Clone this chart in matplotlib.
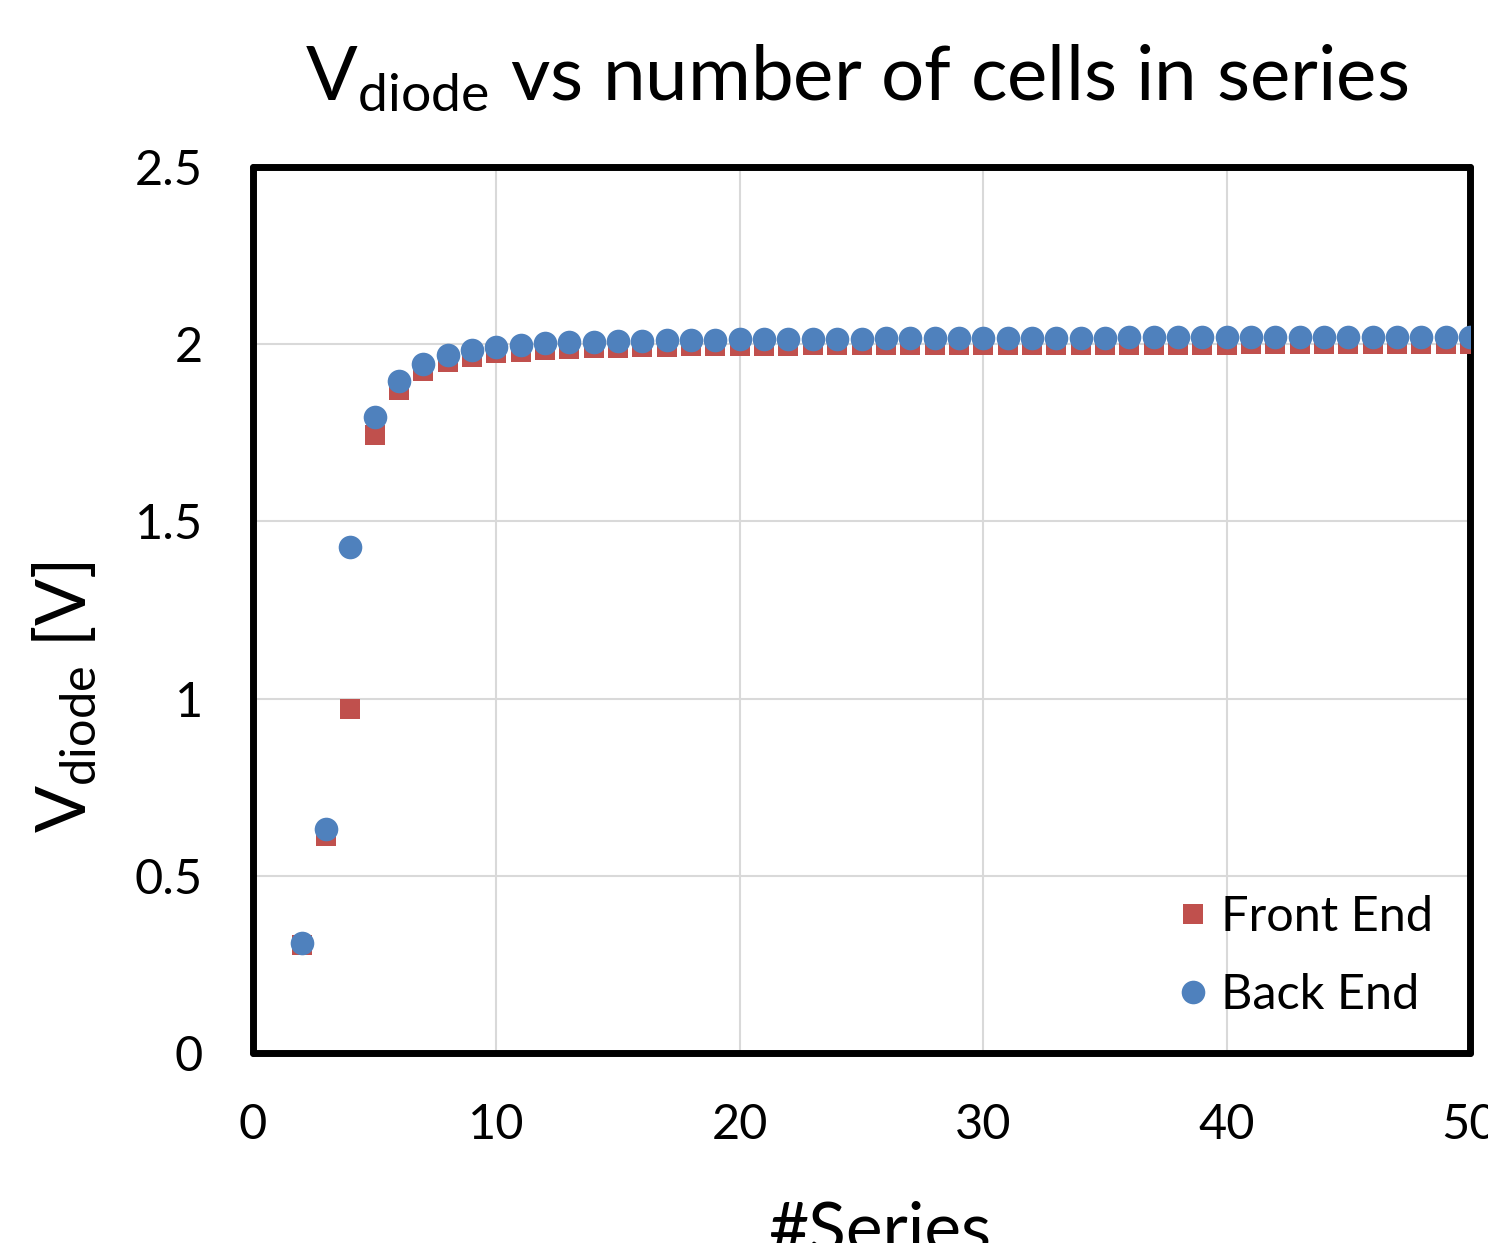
#!/usr/bin/env python3
"""Vdiode vs number of cells in series (front end / back end)."""
import numpy as np
import matplotlib
matplotlib.use('Agg')
import matplotlib.pyplot as plt

n_series = list(range(2, 51))

v_front = [0.305, 0.612, 0.970, 1.744, 1.871, 1.923, 1.949, 1.963, 1.974,
           1.979, 1.984, 1.987, 1.988, 1.990, 1.992, 1.993, 1.994, 1.994,
           1.995, 1.996, 1.996, 1.997, 1.997, 1.997, 1.998, 1.998, 1.998,
           1.998, 1.998, 1.998, 1.999, 1.999, 1.999, 1.999, 1.999, 1.999,
           1.999, 1.999, 1.999, 2.000, 2.000, 2.000, 2.000, 2.000, 2.000,
           2.000, 2.000, 2.000, 2.000]

v_back = [0.310, 0.631, 1.429, 1.794, 1.896, 1.943, 1.970, 1.984, 1.991,
          1.998, 2.002, 2.005, 2.007, 2.009, 2.010, 2.011, 2.012, 2.013,
          2.014, 2.015, 2.015, 2.016, 2.016, 2.016, 2.017, 2.017, 2.017,
          2.017, 2.017, 2.018, 2.018, 2.018, 2.018, 2.018, 2.019, 2.019,
          2.019, 2.019, 2.019, 2.020, 2.020, 2.020, 2.020, 2.020, 2.020,
          2.020, 2.020, 2.020, 2.020]

x_ticks = [0, 10, 20, 30, 40, 50]
y_ticks = [0, 0.5, 1, 1.5, 2, 2.5]
y_tick_labels = ['0', '0.5', '1', '1.5', '2', '2.5']

RED = '#C0504D'
BLUE = '#4F81BD'

plt.rcParams['font.family'] = ['Lato', 'DejaVu Sans']
plt.rcParams['mathtext.fontset'] = 'custom'
plt.rcParams['mathtext.rm'] = 'Lato'


def main():
    fig = plt.figure(figsize=(14.88, 12.43), dpi=100)
    ax = fig.add_axes([253 / 1488, 190 / 1243, 1217 / 1488, 886 / 1243])

    ax.plot(n_series, v_front, linestyle='none', marker='s', markersize=14,
            color=RED, markeredgewidth=0, label='Front End', zorder=3)
    ax.plot(n_series, v_back, linestyle='none', marker='o', markersize=17,
            color=BLUE, markeredgewidth=0, label='Back End', zorder=4)

    ax.set_xlim(0, 50)
    ax.set_ylim(0, 2.5)
    ax.set_xticks(x_ticks)
    ax.set_yticks(y_ticks)
    ax.set_yticklabels(y_tick_labels)
    ax.tick_params(length=0, labelsize=35)
    ax.tick_params(axis='x', pad=36)
    ax.tick_params(axis='y', pad=36)
    ax.grid(True, color='#D9D9D9', linewidth=1.5)
    ax.set_axisbelow(True)
    for s in ax.spines.values():
        s.set_linewidth(5)
        s.set_color('black')
        s.set_capstyle('round')
        s.set_joinstyle('round')

    fig.text(857 / 1488, 1 - 100 / 1243,
             r'$\mathregular{V_{diode}}$ vs number of cells in series',
             fontsize=55, ha='center', va='baseline')
    fig.text(65 / 1488, 1 - 697 / 1243, r'$\mathregular{V_{diode}}$ [V]',
             fontsize=50, rotation=90, ha='center', va='center')
    fig.text(880 / 1488, 1 - 1252 / 1243, '#Series',
             fontsize=50, ha='center', va='baseline')

    ax.legend(loc='lower right', bbox_to_anchor=(0.970, 0.041), frameon=False,
              fontsize=35, handletextpad=0.22, labelspacing=0.7,
              borderaxespad=0, borderpad=0, handlelength=0.75)

    fig.savefig('out.png', dpi=100)


if __name__ == '__main__':
    main()
